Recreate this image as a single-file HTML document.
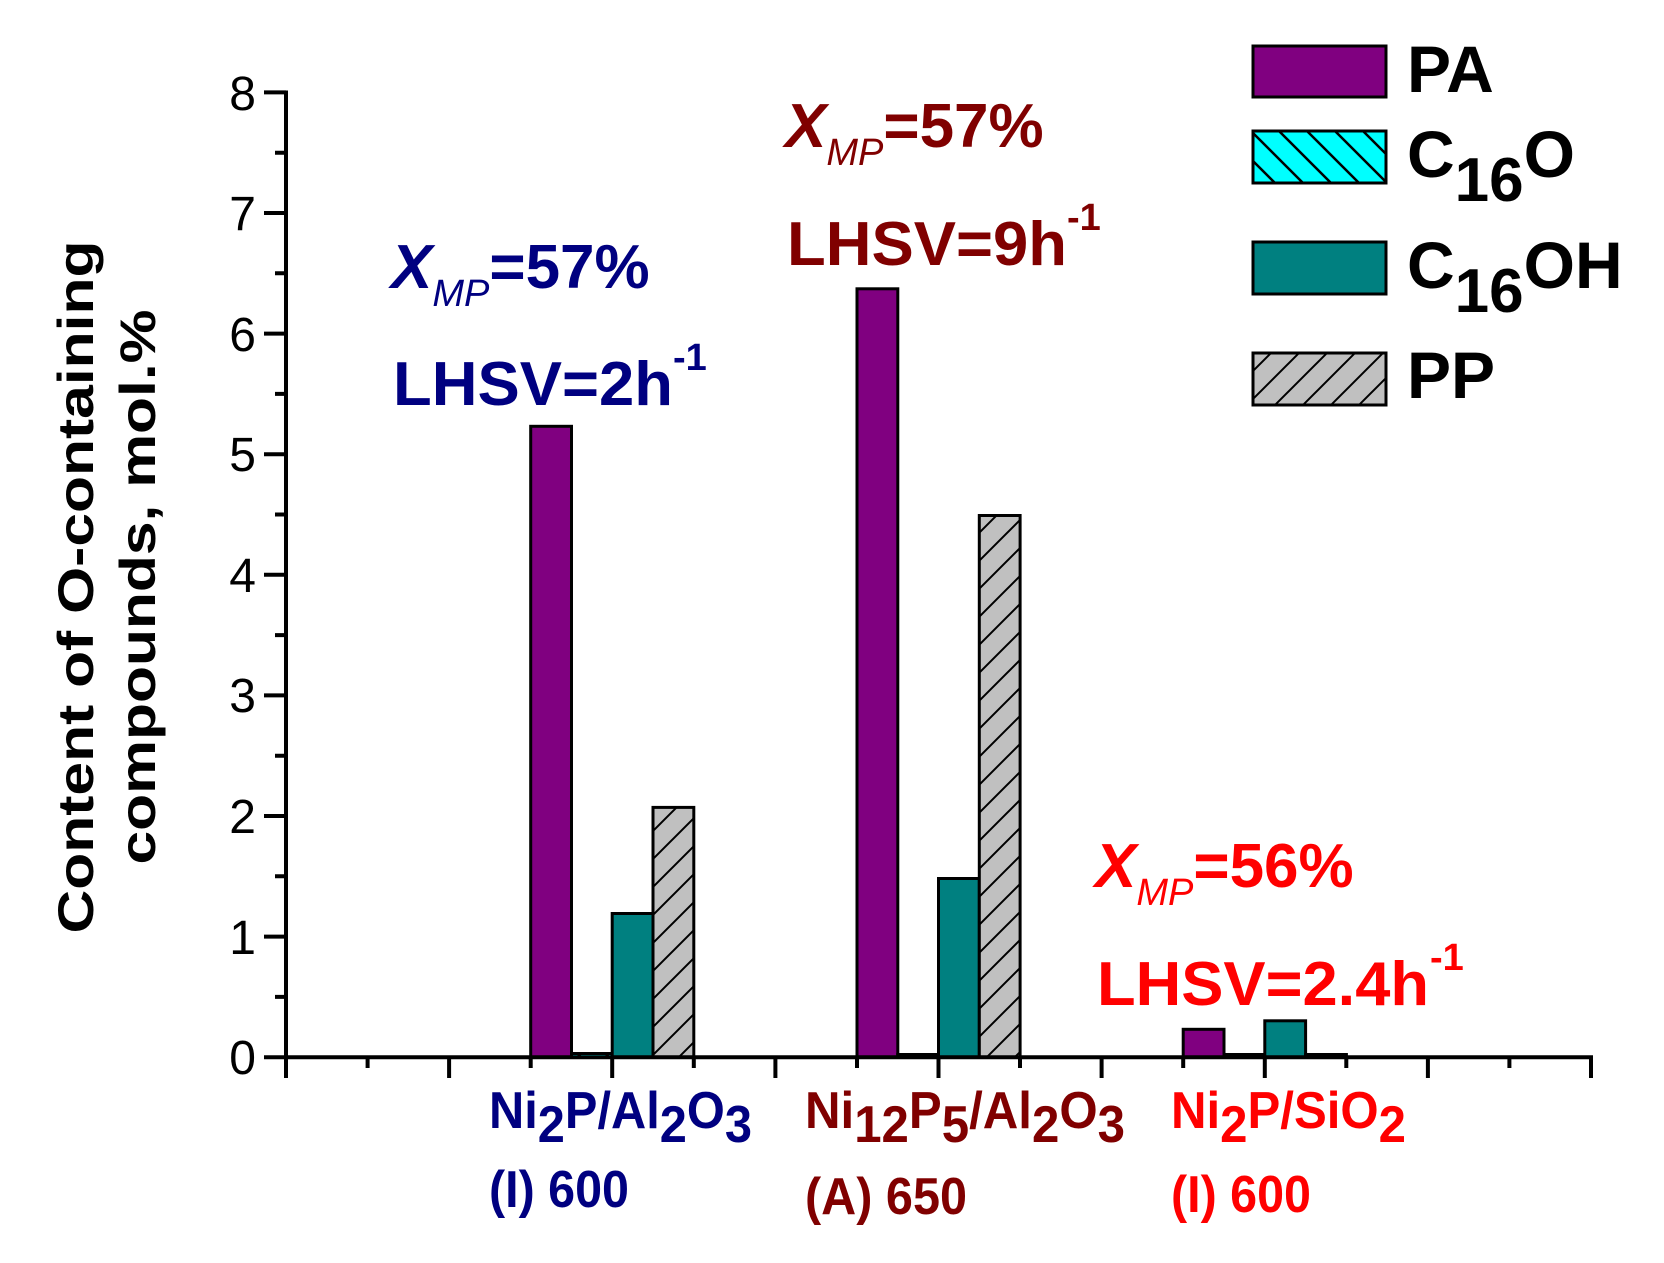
<!DOCTYPE html>
<html><head><meta charset="utf-8"><style>
html,body{margin:0;padding:0;background:#fff;}
svg{display:block;}
text{font-family:"Liberation Sans",Arial,sans-serif;}
</style></head><body>
<svg width="1664" height="1263" viewBox="0 0 1664 1263" xmlns="http://www.w3.org/2000/svg">
<defs>
<pattern id="pp" patternUnits="userSpaceOnUse" width="28" height="28">
<rect width="28" height="28" fill="#c0c0c0"/>
<path d="M-7,7 L7,-7 M0,28 L28,0 M21,35 L35,21" stroke="#000" stroke-width="2"/>
</pattern>
<pattern id="co" patternUnits="userSpaceOnUse" width="28" height="28">
<rect width="28" height="28" fill="#00ffff"/>
<path d="M-7,21 L7,35 M0,0 L28,28 M21,-7 L35,7" stroke="#000" stroke-width="2.5"/>
</pattern>
</defs>

<g stroke="#000" stroke-width="3">
<rect x="530.7" y="426.3" width="40.8" height="630.9" fill="#800080"/>
<rect x="571.5" y="1053.5" width="40.8" height="3.7" fill="url(#co)"/>
<rect x="612.2" y="913.5" width="40.8" height="143.7" fill="#008080"/>
<rect x="653" y="807.4" width="40.8" height="249.8" fill="url(#pp)"/>

<rect x="857" y="288.8" width="40.8" height="768.4" fill="#800080"/>
<rect x="897.7" y="1054.5" width="40.8" height="2.7" fill="url(#co)"/>
<rect x="938.5" y="878.5" width="40.8" height="178.7" fill="#008080"/>
<rect x="979.3" y="515.5" width="40.8" height="541.7" fill="url(#pp)"/>

<rect x="1183.2" y="1029.3" width="40.8" height="27.9" fill="#800080"/>
<rect x="1224" y="1054.5" width="40.8" height="2.7" fill="url(#co)"/>
<rect x="1264.8" y="1020.8" width="40.8" height="36.4" fill="#008080"/>
<rect x="1305.6" y="1054.5" width="40.8" height="2.7" fill="url(#pp)"/>
</g>

<g stroke="#000" stroke-width="4" fill="none">
<line x1="286" y1="90.5" x2="286" y2="1059"/>
<line x1="284" y1="1057.2" x2="1593" y2="1057.2"/>
<path d="M264,92.4H286 M264,213H286 M264,333.6H286 M264,454.2H286 M264,574.8H286 M264,695.4H286 M264,816H286 M264,936.6H286 M264,1057.2H286"/>
<path d="M275,152.7H286 M275,273.3H286 M275,393.9H286 M275,514.5H286 M275,635.1H286 M275,755.7H286 M275,876.3H286 M275,996.9H286"/>
<path d="M286,1057V1078 M449.1,1057V1078 M612.2,1057V1078 M775.4,1057V1078 M938.5,1057V1078 M1101.6,1057V1078 M1264.8,1057V1078 M1427.9,1057V1078 M1591,1057V1078"/>
<path d="M367.6,1057V1068 M530.7,1057V1068 M693.8,1057V1068 M857,1057V1068 M1020,1057V1068 M1183.2,1057V1068 M1346.3,1057V1068 M1509.4,1057V1068"/>
</g>

<g font-size="48" text-anchor="end" fill="#000">
<text x="256" y="110">8</text>
<text x="256" y="230">7</text>
<text x="256" y="351">6</text>
<text x="256" y="471">5</text>
<text x="256" y="592">4</text>
<text x="256" y="712">3</text>
<text x="256" y="833">2</text>
<text x="256" y="954">1</text>
<text x="256" y="1074">0</text>
</g>

<g font-weight="bold" font-size="50" text-anchor="middle" fill="#000">
<text transform="translate(93,587) rotate(-90)" textLength="693" lengthAdjust="spacingAndGlyphs">Content of O-containing</text>
<text transform="translate(155,587) rotate(-90)" textLength="555" lengthAdjust="spacingAndGlyphs">compounds, mol.%</text>
</g>

<g font-weight="bold" font-size="62">
<text x="391" y="288" fill="#000080"><tspan font-style="italic">X</tspan><tspan font-style="italic" font-weight="normal" font-size="38" dy="18">MP</tspan><tspan dy="-18">=57%</tspan></text>
<text x="393" y="405" fill="#000080" textLength="280" lengthAdjust="spacingAndGlyphs">LHSV=2h</text>
<text x="673" y="370" fill="#000080" font-size="38">-1</text>

<text x="785" y="147" fill="#800000"><tspan font-style="italic">X</tspan><tspan font-style="italic" font-weight="normal" font-size="38" dy="18">MP</tspan><tspan dy="-18">=57%</tspan></text>
<text x="787" y="265" fill="#800000" textLength="280" lengthAdjust="spacingAndGlyphs">LHSV=9h</text>
<text x="1067" y="230" fill="#800000" font-size="38">-1</text>

<text x="1095" y="887" fill="#ff0000"><tspan font-style="italic">X</tspan><tspan font-style="italic" font-weight="normal" font-size="38" dy="18">MP</tspan><tspan dy="-18">=56%</tspan></text>
<text x="1097" y="1005" fill="#ff0000" textLength="332" lengthAdjust="spacingAndGlyphs">LHSV=2.4h</text>
<text x="1430" y="970" fill="#ff0000" font-size="38">-1</text>
</g>

<g font-weight="bold" font-size="52">
<text x="489" y="1128" fill="#000080" textLength="263" lengthAdjust="spacingAndGlyphs">Ni<tspan dy="14">2</tspan><tspan dy="-14">P/Al</tspan><tspan dy="14">2</tspan><tspan dy="-14">O</tspan><tspan dy="14">3</tspan></text>
<text x="489" y="1207" fill="#000080" textLength="140" lengthAdjust="spacingAndGlyphs">(I) 600</text>

<text x="805" y="1128" fill="#800000" textLength="320" lengthAdjust="spacingAndGlyphs">Ni<tspan dy="14">12</tspan><tspan dy="-14">P</tspan><tspan dy="14">5</tspan><tspan dy="-14">/Al</tspan><tspan dy="14">2</tspan><tspan dy="-14">O</tspan><tspan dy="14">3</tspan></text>
<text x="805" y="1214" fill="#800000" textLength="162" lengthAdjust="spacingAndGlyphs">(A) 650</text>

<text x="1171" y="1128" fill="#ff0000" textLength="235" lengthAdjust="spacingAndGlyphs">Ni<tspan dy="14">2</tspan><tspan dy="-14">P/SiO</tspan><tspan dy="14">2</tspan></text>
<text x="1171" y="1212" fill="#ff0000" textLength="140" lengthAdjust="spacingAndGlyphs">(I) 600</text>
</g>

<g stroke="#000" stroke-width="3">
<rect x="1253" y="46" width="133" height="51" fill="#800080"/>
<rect x="1253" y="131" width="133" height="52" fill="url(#co)"/>
<rect x="1253" y="242" width="133" height="52" fill="#008080"/>
<rect x="1253" y="353" width="133" height="52" fill="url(#pp)"/>
</g>
<g font-weight="bold" font-size="66" fill="#000">
<text x="1407" y="92">PA</text>
<text x="1407" y="177">C<tspan dy="24" font-size="62">16</tspan><tspan dy="-24">O</tspan></text>
<text x="1407" y="288">C<tspan dy="24" font-size="62">16</tspan><tspan dy="-24">OH</tspan></text>
<text x="1407" y="398">PP</text>
</g>
</svg>
</body></html>
